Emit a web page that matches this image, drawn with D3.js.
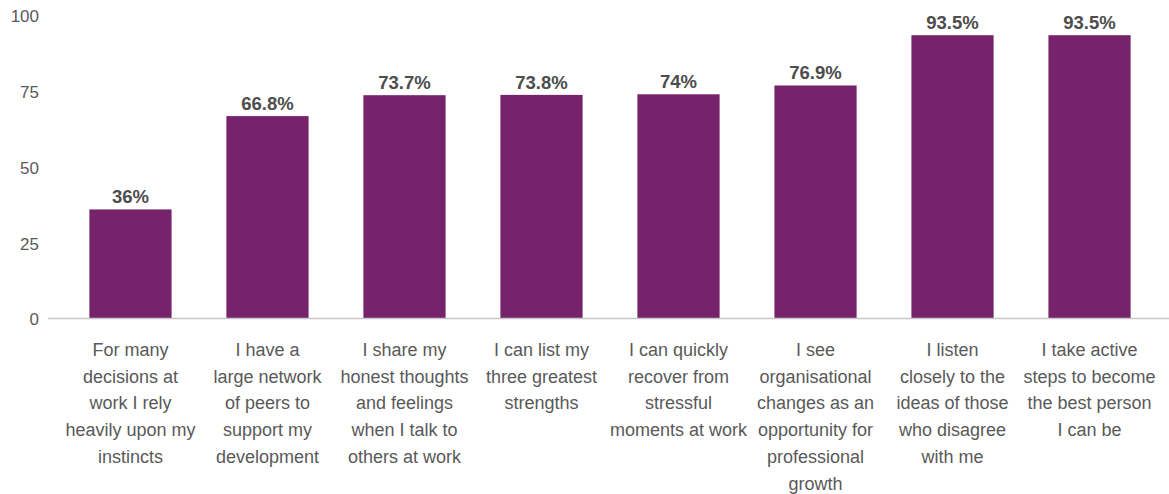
<!DOCTYPE html>
<html>
<head>
<meta charset="utf-8">
<script src="https://cdn.jsdelivr.net/npm/d3@7"></script>
<style>
  html, body { margin: 0; padding: 0; background: #fff; }
  svg { display: block; font-family: "Liberation Sans", Arial, Helvetica, sans-serif; }
</style>
</head>
<body>
<svg id="chart" width="1169" height="494"></svg>
<script>
// Survey statements (one array of lines per category label)
const categories = [
  ["For many", "decisions at", "work I rely", "heavily upon my", "instincts"],
  ["I have a", "large network", "of peers to", "support my", "development"],
  ["I share my", "honest thoughts", "and feelings", "when I talk to", "others at work"],
  ["I can list my", "three greatest", "strengths"],
  ["I can quickly", "recover from", "stressful", "moments at work"],
  ["I see", "organisational", "changes as an", "opportunity for", "professional", "growth"],
  ["I listen", "closely to the", "ideas of those", "who disagree", "with me"],
  ["I take active", "steps to become", "the best person", "I can be"]
];
// Share of respondents agreeing (%)
const values = [36, 66.8, 73.7, 73.8, 74, 76.9, 93.5, 93.5];
// Value axis ticks
const yTicks = [0, 25, 50, 75, 100];

const svg = d3.select("#chart");
const baseY = 318.5, topY = 15.5;

const x = d3.scaleBand()
  .domain(d3.range(values.length))
  .range([48, 1172])
  .paddingInner(0.4)
  .paddingOuter(0.302);

const y = d3.scaleLinear().domain([0, 100]).range([baseY, topY]);

// y tick labels
svg.append("g")
  .selectAll("text")
  .data(yTicks)
  .join("text")
  .attr("x", 39)
  .attr("y", d => y(d) + 1)
  .attr("dy", "0.35em")
  .attr("text-anchor", "end")
  .attr("font-size", 17)
  .attr("fill", "#5a5a5a")
  .text(d => d);

// bars
svg.append("g")
  .selectAll("rect")
  .data(values)
  .join("rect")
  .attr("x", (d, i) => x(i))
  .attr("y", d => y(d))
  .attr("width", x.bandwidth())
  .attr("height", d => baseY - y(d))
  .attr("fill", "#76236c");

// baseline
svg.append("line")
  .attr("x1", 48).attr("x2", 1169)
  .attr("y1", baseY).attr("y2", baseY)
  .attr("stroke", "#c6c6c6")
  .attr("stroke-width", 1.5);

// value labels
svg.append("g")
  .selectAll("text")
  .data(values)
  .join("text")
  .attr("x", (d, i) => x(i) + x.bandwidth() / 2)
  .attr("y", d => y(d) - 6)
  .attr("text-anchor", "middle")
  .attr("font-size", 18.5)
  .attr("font-weight", "bold")
  .attr("fill", "#4d4d4d")
  .text(d => d + "%");

// category labels
const cat = svg.append("g")
  .selectAll("text")
  .data(categories)
  .join("text")
  .attr("x", (d, i) => x(i) + x.bandwidth() / 2)
  .attr("y", 356)
  .attr("text-anchor", "middle")
  .attr("font-size", 18)
  .attr("fill", "#595959");

cat.selectAll("tspan")
  .data(d => d)
  .join("tspan")
  .attr("x", function () { return d3.select(this.parentNode).attr("x"); })
  .attr("dy", (d, j) => j === 0 ? 0 : 26.7)
  .text(d => d);
</script>
</body>
</html>
